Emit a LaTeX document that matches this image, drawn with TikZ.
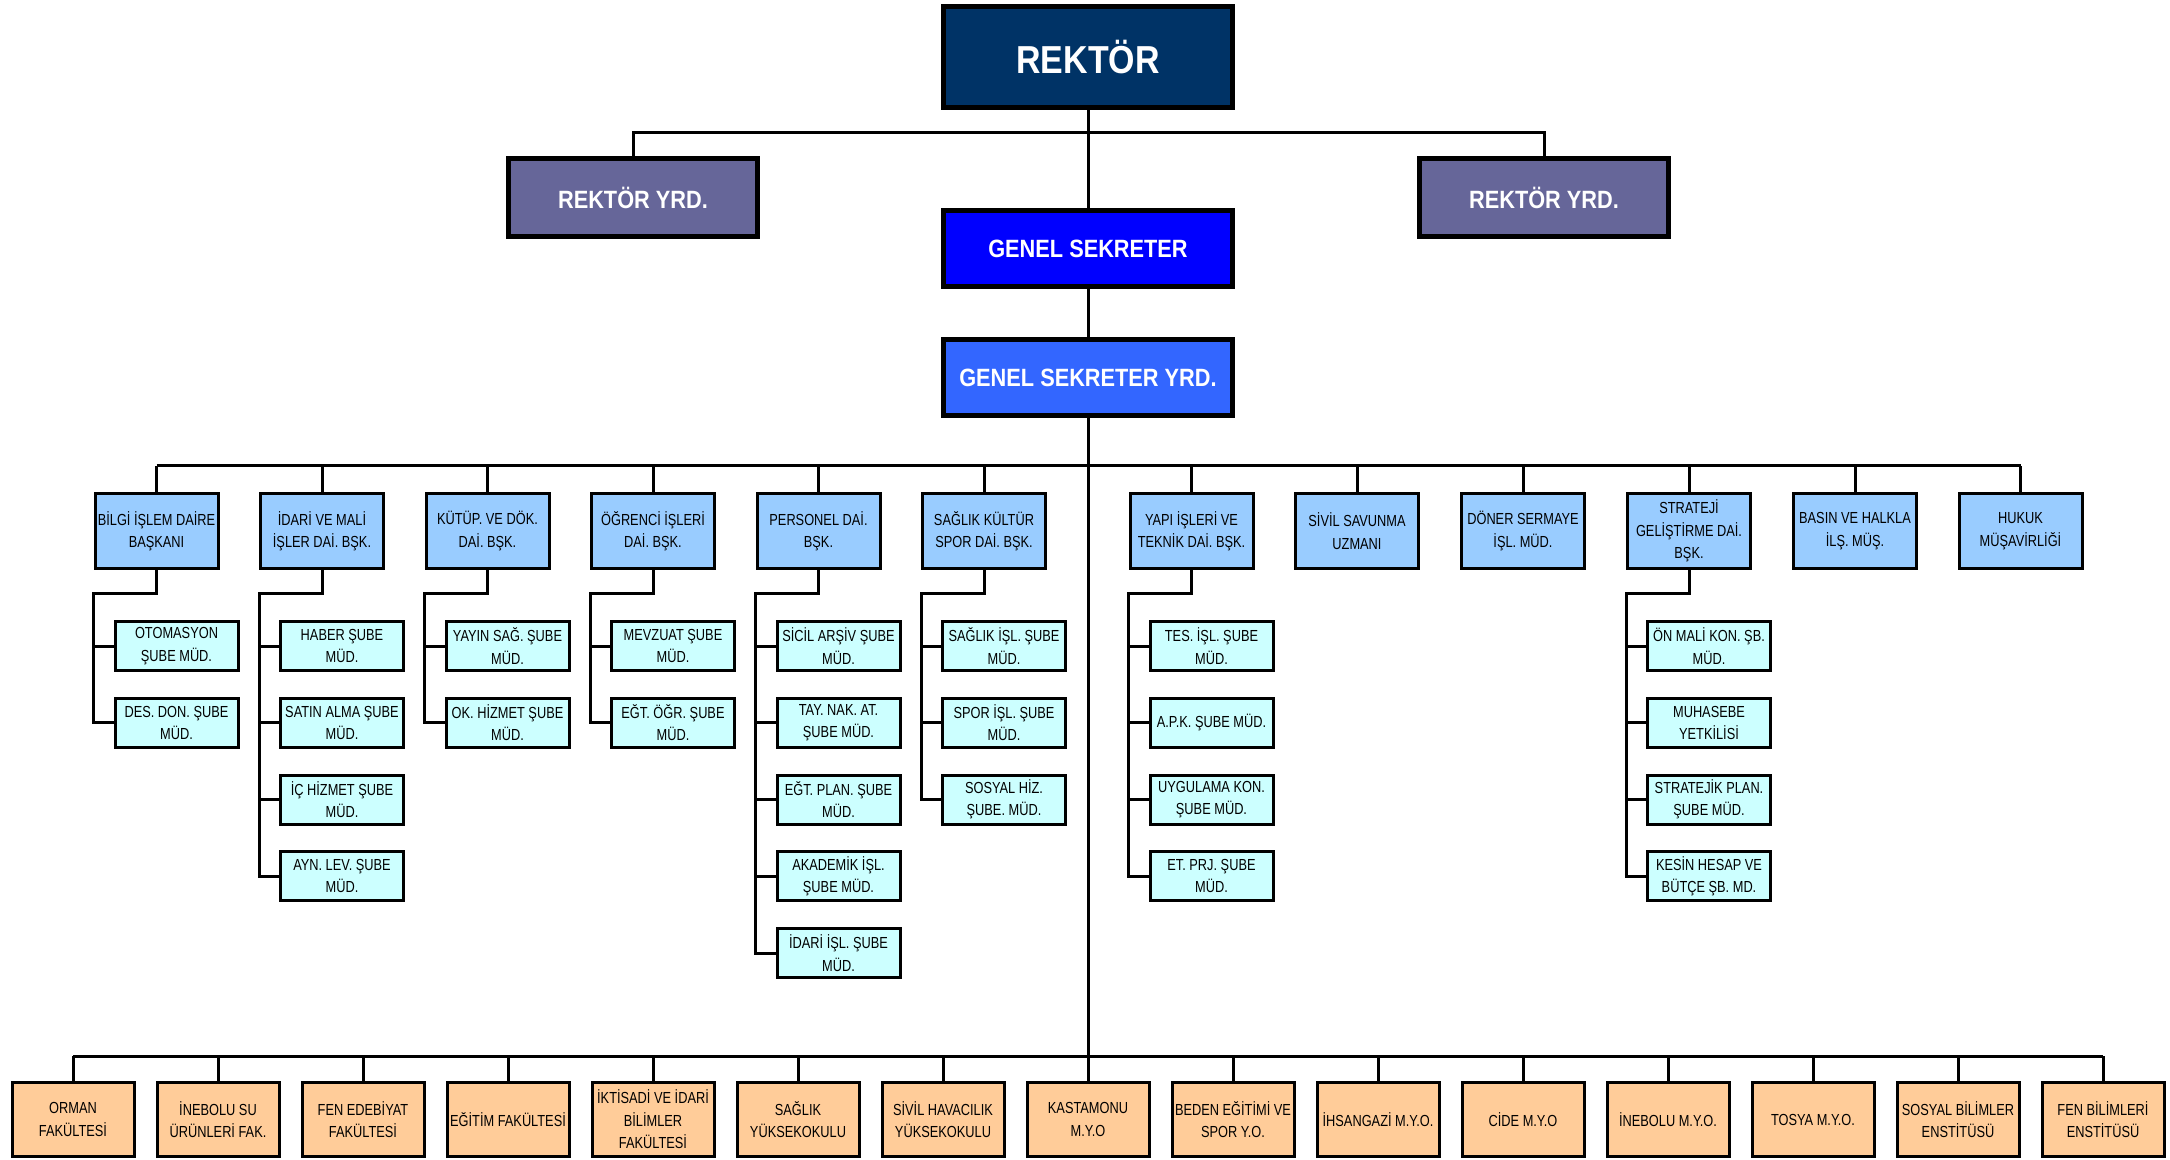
\documentclass[tikz,border=0pt]{standalone}
\usepackage{fontspec}
\setmainfont{Liberation Sans}
\newfontfamily\narrowF[FakeStretch=0.8]{Liberation Sans}
\newfontfamily\wideF[FakeStretch=0.87]{Liberation Sans}
\usetikzlibrary{backgrounds}
\definecolor{rekblue}{HTML}{003366}
\definecolor{yrdpurple}{HTML}{666699}
\definecolor{gsblue}{HTML}{0000FF}
\definecolor{gsyblue}{HTML}{3366FF}
\definecolor{deptblue}{HTML}{99CCFF}
\definecolor{subcyan}{HTML}{CCFFFF}
\definecolor{facorange}{HTML}{FFCC99}
\tikzset{
  bx/.style={draw=black, line width=1.5pt, align=center, inner sep=0pt,
    font=\narrowF\fontsize{8}{11.2}\selectfont},
  bigbox/.style={draw=black, line width=2.5pt, text=white, align=center, inner sep=0pt,
    font=\wideF\bfseries\fontsize{12.5}{15}\selectfont},
  rekbox/.style={bigbox, fill=rekblue, minimum width=144.5pt, minimum height=50.5pt,
    font=\wideF\bfseries\fontsize{19.5}{22}\selectfont},
  yrdbox/.style={bigbox, fill=yrdpurple, minimum width=124.5pt, minimum height=39pt},
  gsbox/.style={bigbox, fill=gsblue, minimum width=144.5pt, minimum height=38pt},
  gsybox/.style={bigbox, fill=gsyblue, minimum width=144.5pt, minimum height=38pt},
  deptbox/.style={bx, fill=deptblue, minimum width=61.5pt, minimum height=37.5pt},
  subbox/.style={bx, fill=subcyan, minimum width=61.5pt, minimum height=24.5pt},
  facbox/.style={bx, fill=facorange, minimum width=61pt, minimum height=37pt},
  conn/.style={line width=1.5pt, black},
}
\begin{document}
\begin{tikzpicture}[x=0.5pt, y=-0.5pt]
\useasboundingbox (0,0) rectangle (2170,1160);

% top levels
\node[rekbox] (rek) at (1088,57) {REKTÖR};
\node[yrdbox] (ryl) at (633,197.5) {REKTÖR YRD.};
\node[yrdbox] (ryr) at (1544,197.5) {REKTÖR YRD.};
\node[gsbox] (gs) at (1088,248.5) {GENEL SEKRETER};
\node[gsybox] (gsy) at (1088,377.5) {GENEL SEKRETER YRD.};

% departments
\node[deptbox] (d1) at (156.5,531) {BİLGİ İŞLEM DAİRE\\BAŞKANI};
\node[deptbox] (d2) at (322,531) {İDARİ VE MALİ\\İŞLER DAİ. BŞK.};
\node[deptbox] (d3) at (487.5,531) {KÜTÜP. VE DÖK.\\DAİ. BŞK.};
\node[deptbox] (d4) at (653,531) {ÖĞRENCİ İŞLERİ\\DAİ. BŞK.};
\node[deptbox] (d5) at (818.5,531) {PERSONEL DAİ.\\BŞK.};
\node[deptbox] (d6) at (984,531) {SAĞLIK KÜLTÜR\\SPOR DAİ. BŞK.};
\node[deptbox] (d7) at (1191.5,531) {YAPI İŞLERİ VE\\TEKNİK DAİ. BŞK.};
\node[deptbox] (d8) at (1357,531) {SİVİL SAVUNMA\\UZMANI};
\node[deptbox] (d9) at (1523,531) {DÖNER SERMAYE\\İŞL. MÜD.};
\node[deptbox] (d10) at (1689,531) {STRATEJİ\\GELİŞTİRME DAİ.\\BŞK.};
\node[deptbox] (d11) at (1855,531) {BASIN VE HALKLA\\İLŞ. MÜŞ.};
\node[deptbox] (d12) at (2020.5,531) {HUKUK\\MÜŞAVİRLİĞİ};

% sub units
\foreach [count=\j] \t in {{OTOMASYON\\ŞUBE MÜD.},{DES. DON. ŞUBE\\MÜD.}}
  \node[subbox] (c1-\j) at (176.5,{646+76.75*(\j-1)}) {\t};
\foreach [count=\j] \t in {{HABER ŞUBE\\MÜD.},{SATIN ALMA ŞUBE\\MÜD.},{İÇ HİZMET ŞUBE\\MÜD.},{AYN. LEV. ŞUBE\\MÜD.}}
  \node[subbox] (c2-\j) at (342,{646+76.75*(\j-1)}) {\t};
\foreach [count=\j] \t in {{YAYIN SAĞ. ŞUBE\\MÜD.},{OK. HİZMET ŞUBE\\MÜD.}}
  \node[subbox] (c3-\j) at (507.5,{646+76.75*(\j-1)}) {\t};
\foreach [count=\j] \t in {{MEVZUAT ŞUBE\\MÜD.},{EĞT. ÖĞR. ŞUBE\\MÜD.}}
  \node[subbox] (c4-\j) at (673,{646+76.75*(\j-1)}) {\t};
\foreach [count=\j] \t in {{SİCİL ARŞİV ŞUBE\\MÜD.},{TAY. NAK. AT.\\ŞUBE MÜD.},{EĞT. PLAN. ŞUBE\\MÜD.},{AKADEMİK İŞL.\\ŞUBE MÜD.},{İDARİ İŞL. ŞUBE\\MÜD.}}
  \node[subbox] (c5-\j) at (838.5,{646+76.75*(\j-1)}) {\t};
\foreach [count=\j] \t in {{SAĞLIK İŞL. ŞUBE\\MÜD.},{SPOR İŞL. ŞUBE\\MÜD.},{SOSYAL HİZ.\\ŞUBE. MÜD.}}
  \node[subbox] (c6-\j) at (1004,{646+76.75*(\j-1)}) {\t};
\foreach [count=\j] \t in {{TES. İŞL. ŞUBE\\MÜD.},{A.P.K. ŞUBE MÜD.},{UYGULAMA KON.\\ŞUBE MÜD.},{ET. PRJ. ŞUBE\\MÜD.}}
  \node[subbox] (c7-\j) at (1211.5,{646+76.75*(\j-1)}) {\t};
\foreach [count=\j] \t in {{ÖN MALİ KON. ŞB.\\MÜD.},{MUHASEBE\\YETKİLİSİ},{STRATEJİK PLAN.\\ŞUBE MÜD.},{KESİN HESAP VE\\BÜTÇE ŞB. MD.}}
  \node[subbox] (c10-\j) at (1709,{646+76.75*(\j-1)}) {\t};

% faculties
\foreach [count=\k] \t in {{ORMAN\\FAKÜLTESİ},{İNEBOLU SU\\ÜRÜNLERİ FAK.},{FEN EDEBİYAT\\FAKÜLTESİ},{EĞİTİM FAKÜLTESİ},{İKTİSADİ VE İDARİ\\BİLİMLER\\FAKÜLTESİ},{SAĞLIK\\YÜKSEKOKULU},{SİVİL HAVACILIK\\YÜKSEKOKULU},{KASTAMONU\\M.Y.O},{BEDEN EĞİTİMİ VE\\SPOR Y.O.},{İHSANGAZİ M.Y.O.},{CİDE M.Y.O},{İNEBOLU M.Y.O.},{TOSYA M.Y.O.},{SOSYAL BİLİMLER\\ENSTİTÜSÜ},{FEN BİLİMLERİ\\ENSTİTÜSÜ}}
  \node[facbox] (f\k) at ({73+145*(\k-1)},1119.5) {\t};

\coordinate (tb) at (0,133);
\coordinate (db) at (0,466);
\coordinate (hb) at (0,594);
\coordinate (fb) at (0,1056);

\begin{scope}[on background layer]
  % main spine
  \draw[conn] (rek.south) -- (f8.north);
  % rektor yrd bus
  \draw[conn] (ryl.north) -- (ryl.north |- tb) -- (ryr.north |- tb) -- (ryr.north);
  % department bus
  \draw[conn] (d1.north |- db) -- (d12.north |- db);
  \foreach \i in {1,...,12}
    \draw[conn] (d\i.north) -- (d\i.north |- db);
  % sub unit brackets
  \foreach \i/\n in {1/2,2/4,3/2,4/2,5/5,6/3,7/4,10/4}{
    \draw[conn] (d\i.south) |- (d\i.west |- hb) -- (d\i.west |- c\i-\n.west) -- (c\i-\n.west);
    \foreach \j in {1,...,\n}
      \draw[conn] (d\i.west |- c\i-\j.west) -- (c\i-\j.west);
  }
  % faculty bus
  \draw[conn] (f1.north |- fb) -- (f15.north |- fb);
  \foreach \k in {1,...,15}
    \draw[conn] (f\k.north) -- (f\k.north |- fb);
\end{scope}
\end{tikzpicture}
\end{document}
